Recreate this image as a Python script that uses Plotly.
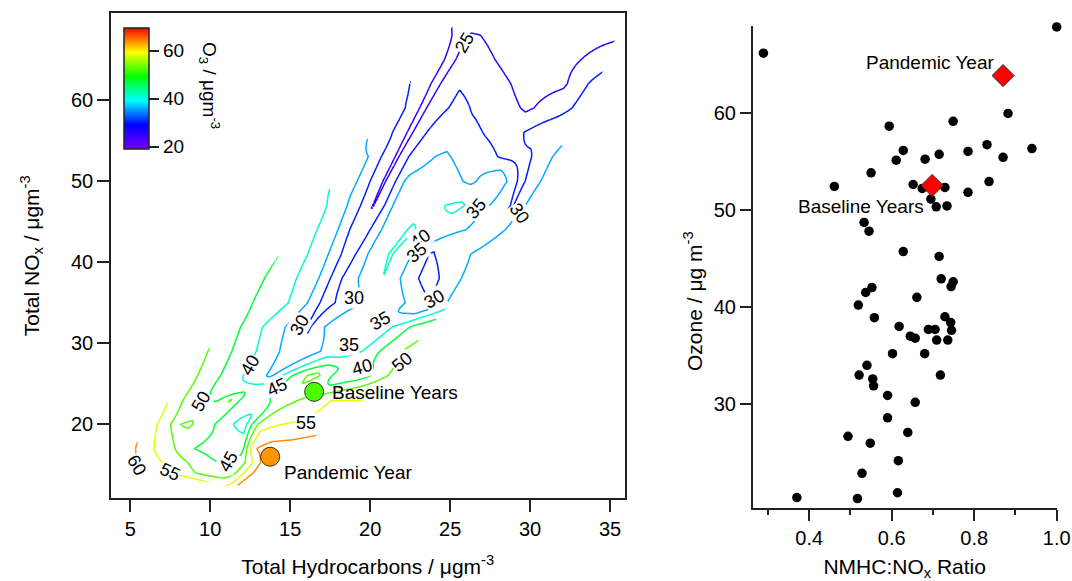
import numpy as np
import plotly.graph_objects as go

FONT = "Liberation Sans, Arial, sans-serif"
INK = "#222222"
W_PX = 1072.0
H_PX = 581.0

# ---------------- Left panel: O3 field over Total Hydrocarbons (x) / Total NOx (y) ----------------
# Each row: a NOx level, 12 THC positions across the data band (left edge -> right edge)
# and the O3 value read at each of them.
row_nox = [12.4, 14, 15.3, 17, 20, 23, 26, 29, 32, 35, 38, 41, 44, 47, 50, 53, 56, 59, 62, 65, 68, 69]
row_thc = [
    [10.9, 11.0, 11.1, 11.2, 11.3, 11.4, 11.5, 11.6, 11.7, 11.75, 11.8, 11.9],
    [6.5, 7.5, 8.5, 9.5, 10.5, 11.1, 11.6, 12.0, 12.4, 12.7, 13.0, 13.3],
    [4.5, 5.4, 7.0, 8.6, 10.0, 11.0, 11.8, 12.4, 12.9, 13.4, 13.85, 14.15],
    [5.1, 6.5, 7.8, 9.0, 10.5, 11.8, 12.1, 12.5, 12.9, 13.6, 14.5, 15.27],
    [6.25, 7.0, 7.7, 8.6, 9.8, 11.0, 12.1, 12.6, 13.2, 14.5, 16.2, 17.84],
    [7.4, 8.3, 9.3, 10.5, 11.3, 12.4, 13.3, 14.2, 15.2, 16.4, 17.6, 19.65],
    [8.55, 9.6, 10.8, 12.2, 13.8, 14.6, 15.4, 16.5, 17.4, 18.2, 19.6, 21.33],
    [9.71, 11.2, 12.6, 14.0, 15.7, 17.2, 17.9, 18.6, 19.5, 20.6, 21.6, 22.53],
    [10.86, 12.2, 13.4, 14.7, 16.2, 17.0, 17.9, 19.0, 20.4, 21.6, 22.7, 23.73],
    [12.02, 13.5, 14.9, 16.1, 17.1, 18.3, 19.6, 20.8, 22.2, 23.8, 24.5, 25.1],
    [13.17, 14.3, 15.4, 16.8, 17.8, 18.9, 19.8, 20.8, 22.1, 23.6, 24.9, 26.5],
    [14.32, 15.3, 16.1, 17.4, 18.6, 19.3, 20.0, 21.3, 22.6, 23.8, 25.3, 27.77],
    [15.48, 16.2, 16.8, 18.0, 19.3, 20.0, 20.7, 22.5, 24.2, 26.0, 27.6, 28.87],
    [16.63, 17.3, 18.0, 18.8, 20.2, 20.9, 21.4, 23.3, 25.6, 27.2, 28.9, 30.0],
    [17.78, 18.5, 19.2, 20.0, 20.9, 21.6, 22.2, 24.3, 26.4, 27.9, 29.4, 30.86],
    [18.94, 19.4, 19.9, 20.7, 21.7, 22.4, 23.2, 24.5, 26.4, 28.5, 29.7, 31.66],
    [20.09, 20.6, 21.4, 22.0, 22.5, 23.1, 24.3, 26.0, 27.3, 28.7, 30.7, 32.5],
    [21.25, 21.8, 22.2, 22.8, 23.3, 23.9, 25.5, 27.0, 28.4, 29.9, 31.6, 33.3],
    [22.4, 22.9, 23.3, 23.7, 24.1, 24.8, 25.6, 27.0, 28.0, 30.0, 32.2, 34.16],
    [23.55, 24.0, 24.4, 24.7, 25.0, 25.6, 26.3, 27.0, 27.8, 29.5, 32.0, 35.0],
    [24.7, 25.0, 25.2, 25.45, 25.7, 26.0, 26.4, 26.9, 27.6, 29.5, 32.5, 35.4],
    [25.1, 25.3, 25.45, 25.6, 25.75, 25.9, 26.05, 26.3, 26.6, 26.9, 27.2, 27.5],
]
row_o3 = [
    [54, 54.5, 55, 55.5, 56, 57, 58, 59, 60, 61, 62, 63],
    [59, 55, 52, 48.5, 46, 47, 50, 54, 57, 60, 62, 64],
    [64, 60, 55, 50, 46, 44, 46, 52, 58, 62, 64, 65],
    [61, 55, 50, 45, 42, 40, 45, 55, 60, 62, 62.5, 63.5],
    [58, 53, 49, 51, 47, 42, 37, 45, 53, 55, 55.5, 57],
    [55, 50, 46, 44.5, 50.5, 40, 44, 46, 49, 52.5, 55, 55],
    [52.5, 48.5, 44.5, 39.5, 34, 41, 47, 52, 47, 40, 43, 51],
    [50.5, 45.5, 41, 36, 31, 36, 38, 36, 40, 45, 49.5, 51],
    [48.5, 44, 39.5, 35, 29.5, 34, 40, 36, 35.5, 41, 46, 49],
    [46.5, 43, 40, 35, 28.5, 31, 35, 38, 35, 30, 33, 37],
    [45.5, 43, 40, 35, 28, 33, 38, 40, 34, 27.5, 32, 38],
    [45, 42.5, 40, 35, 27.5, 31, 36, 40.5, 35, 29.5, 33, 38],
    [44.5, 42, 39.5, 35, 26, 30, 35, 40.5, 38, 35, 31, 37],
    [41.5, 40, 37.5, 34, 24.7, 30, 35, 38.5, 41, 36, 29.5, 37],
    [39.5, 37.5, 35, 30, 24.4, 30, 35.5, 37.5, 34, 40, 28.5, 36],
    [37, 36, 35, 30, 24.2, 30, 33.5, 35.8, 33, 29, 28.5, 36],
    [34.5, 32.5, 30, 27, 23.8, 28, 33.5, 32, 29.5, 27.5, 33, 34],
    [32.3, 31, 30, 27, 23.5, 27.5, 31.5, 28.5, 26, 24.5, 27, 32],
    [30.2, 29, 27.5, 25.5, 23.5, 27, 29.5, 28, 26, 23.5, 24.5, 32],
    [28, 27, 26, 24.8, 23.5, 26, 27.5, 26.5, 25, 23, 23, 28],
    [26, 25.3, 24.8, 24.2, 23.5, 24.8, 25.5, 25, 24, 22.5, 22.5, 24],
    [25, 24.5, 24, 23.5, 23.5, 23.5, 23.5, 23.5, 23.5, 23.5, 23.5, 23.5],
]

o3_min, o3_max = 19.2, 69.7           # colour bar limits
contour_start, contour_end, contour_step = 20, 70, 5
cbar_ticks = [20, 40, 60]

# contour level labels as printed on the figure: THC, NOx, text, angle
label_thc = [25.9, 26.6, 29.3, 23.1, 22.9, 19.0, 24.0, 15.6, 20.6, 18.65, 12.5, 22.0, 19.5, 14.2, 9.4, 16.0, 11.1, 7.5, 5.41]
label_nox = [67.0, 46.6, 46.0, 42.9, 41.1, 35.6, 35.5, 32.2, 32.8, 29.75, 27.3, 27.7, 27.1, 24.6, 22.8, 20.1, 15.4, 14.1, 15.0]
label_txt = ["25", "35", "30", "40", "35", "30", "30", "30", "35", "35", "40", "50", "40", "45", "50", "55", "45", "55", "60"]
label_ang = [-60, -50, 55, -35, -40, 0, -30, -60, -30, 0, -60, -40, -15, -25, -60, 0, -60, 25, 60]

marker_names = ["Baseline Years", "Pandemic Year"]
marker_thc = [16.5, 13.75]
marker_nox = [24.0, 16.0]
marker_o3 = [52.5, 63.8]

# ---------------- Right panel: ozone vs NMHC:NOx ratio ----------------
ratio = [0.289, 1.0, 0.882, 0.594, 0.749, 0.628, 0.611, 0.681, 0.715, 0.785, 0.831, 0.870,
         0.940, 0.550, 0.461, 0.652, 0.674, 0.729, 0.785, 0.836, 0.695, 0.708, 0.734, 0.533,
         0.545, 0.628, 0.715, 0.720, 0.749, 0.744, 0.552, 0.537, 0.519, 0.661, 0.558, 0.618,
         0.729, 0.743, 0.745, 0.689, 0.705, 0.645, 0.657, 0.709, 0.736, 0.602, 0.680, 0.540,
         0.521, 0.554, 0.556, 0.718, 0.590, 0.657, 0.590, 0.494, 0.639, 0.548, 0.616, 0.528,
         0.614, 0.370, 0.517]
ozone = [66.1, 68.8, 59.9, 58.6, 59.1, 56.1, 55.1, 55.2, 55.7, 56.0, 56.7, 55.4,
         56.3, 53.8, 52.4, 52.6, 52.2, 52.3, 51.8, 52.9, 51.1, 50.3, 50.4, 48.7,
         47.8, 45.7, 45.2, 42.9, 42.6, 42.1, 42.0, 41.5, 40.2, 41.0, 38.9, 38.0,
         39.0, 38.4, 37.6, 37.7, 37.7, 37.0, 36.8, 36.6, 36.6, 35.2, 35.2, 34.0,
         33.0, 32.6, 31.9, 33.0, 30.9, 30.2, 28.6, 26.7, 27.1, 26.0, 24.2, 22.9,
         20.9, 20.4, 20.3]
highlight_names = ["Baseline Years", "Pandemic Year"]
highlight_ratio = [0.698, 0.870]
highlight_ozone = [52.5, 63.8]

# ---------------- Build the contour surface between the read rows ----------------
RY = np.array(row_nox, float)
RX = np.array(row_thc, float)
RZ = np.array(row_o3, float)
gx = np.round(np.arange(3.8, 35.95, 0.1), 3)
gy = np.round(np.arange(10.9, 70.7, 0.12), 3)
Z = np.full((gy.size, gx.size), np.nan)
for j, yv in enumerate(gy):
    if yv < RY[0] or yv > RY[-1]:
        continue
    k = min(int(np.searchsorted(RY, yv, side="right")) - 1, RY.size - 2)
    t = (yv - RY[k]) / (RY[k + 1] - RY[k])
    xs = (1 - t) * RX[k] + t * RX[k + 1]
    zs = (1 - t) * RZ[k] + t * RZ[k + 1]
    inside = (gx >= xs[0]) & (gx <= xs[-1])
    Z[j, inside] = np.interp(gx[inside], xs, zs)
Z = np.round(Z, 2)

rainbow = [[0.0, "rgb(118,0,255)"], [0.2, "rgb(0,0,255)"], [0.4, "rgb(0,255,255)"],
           [0.6, "rgb(0,255,0)"], [0.8, "rgb(255,255,0)"], [1.0, "rgb(255,0,0)"]]


def px_x(p):
    return p / W_PX


def px_y(p):
    return 1 - p / H_PX


fig = go.Figure()
fig.add_trace(go.Contour(
    x=gx, y=gy, z=Z, zmin=o3_min, zmax=o3_max, colorscale=rainbow, showscale=False,
    autocontour=False, connectgaps=False,
    contours=dict(start=contour_start, end=contour_end, size=contour_step, coloring="lines",
                  showlabels=False),
    line=dict(width=1.5), hoverinfo="skip", xaxis="x", yaxis="y"))

fig.add_trace(go.Scatter(
    x=marker_thc, y=marker_nox, mode="markers", xaxis="x", yaxis="y", cliponaxis=False,
    marker=dict(size=19, color=marker_o3, colorscale=rainbow, cmin=o3_min, cmax=o3_max,
                line=dict(color="#333333", width=1), showscale=True,
                colorbar=dict(x=px_x(124), xanchor="left", y=px_y(27.6), yanchor="top",
                              len=(149 - 27.6) / H_PX, lenmode="fraction", thickness=25,
                              thicknessmode="pixels", outlinewidth=1.5, outlinecolor=INK,
                              tickvals=cbar_ticks, ticks="outside", ticklen=10, tickwidth=1.5,
                              tickcolor=INK, tickfont=dict(family=FONT, size=19, color="black"),
                              xpad=0, ypad=0)),
    showlegend=False, hoverinfo="skip"))

fig.add_trace(go.Scatter(
    x=ratio, y=ozone, mode="markers", xaxis="x2", yaxis="y2", cliponaxis=False,
    marker=dict(size=9.5, color="black"), showlegend=False))
fig.add_trace(go.Scatter(
    x=highlight_ratio, y=highlight_ozone, mode="markers", xaxis="x2", yaxis="y2", cliponaxis=False,
    marker=dict(size=17, symbol="diamond", color="#ff0000", line=dict(color="#333333", width=1)),
    showlegend=False))

axis_common = dict(showgrid=False, zeroline=False, showline=True, linecolor=INK, linewidth=1.5,
                   ticks="outside", tickwidth=1.5, tickcolor=INK, automargin=False,
                   tickfont=dict(family=FONT, size=20, color="black"))

annotations = [
    dict(text="O<sub>3</sub> / μgm<sup>-3</sup>", xref="paper", yref="paper",
         x=px_x(210), y=px_y(85), xanchor="center", yanchor="middle", textangle=90,
         showarrow=False, font=dict(family=FONT, size=19, color="black")),
    dict(text=marker_names[0], x=17.5, y=23.9, xref="x", yref="y", xanchor="left",
         yanchor="middle", showarrow=False, font=dict(family=FONT, size=19, color="black")),
    dict(text=marker_names[1], x=14.5, y=14.1, xref="x", yref="y", xanchor="left",
         yanchor="middle", showarrow=False, font=dict(family=FONT, size=19, color="black")),
    dict(text=highlight_names[1], x=0.853, y=65.1, xref="x2", yref="y2", xanchor="right",
         yanchor="middle", showarrow=False, font=dict(family=FONT, size=19, color="black")),
    dict(text=highlight_names[0], x=0.682, y=50.3, xref="x2", yref="y2", xanchor="right",
         yanchor="middle", showarrow=False, font=dict(family=FONT, size=19, color="black")),
    dict(text="Ozone / μg m<sup>-3</sup>", xref="paper", yref="paper",
         x=px_x(693), y=px_y(301), xanchor="center", yanchor="middle", textangle=-90,
         showarrow=False, font=dict(family=FONT, size=21, color="black")),
]
for lx, ly, lt, la in zip(label_thc, label_nox, label_txt, label_ang):
    annotations.append(dict(text=lt, x=lx, y=ly, xref="x", yref="y", textangle=la,
                            xanchor="center", yanchor="middle", showarrow=False,
                            bgcolor="white", borderpad=0,
                            font=dict(family=FONT, size=18, color="black")))

fig.update_layout(
    width=1072, height=581, autosize=False, margin=dict(l=0, r=0, t=0, b=0, pad=0, autoexpand=False),
    paper_bgcolor="white", plot_bgcolor="white",
    font=dict(family=FONT, color="black"),
    xaxis=dict(domain=[px_x(111), px_x(624.5)], range=[3.8, 35.9], anchor="y",
               tickvals=[5, 10, 15, 20, 25, 30, 35], ticklen=12, mirror=True,
               title=dict(text="Total Hydrocarbons / μgm<sup>-3</sup>", standoff=20,
                          font=dict(family=FONT, size=21)), **axis_common),
    yaxis=dict(domain=[px_y(498.3), px_y(13.3)], range=[10.87, 70.69], anchor="x",
               tickvals=[20, 30, 40, 50, 60], ticklen=12, mirror=True,
               title=dict(text="Total NO<sub>x</sub> / μgm<sup>-3</sup>", standoff=26,
                          font=dict(family=FONT, size=21)), **axis_common),
    xaxis2=dict(domain=[px_x(752.7), px_x(1056.7)], range=[0.263, 1.0], anchor="y2",
                tickvals=[0.4, 0.6, 0.8, 1.0], ticktext=["0.4", "0.6", "0.8", "1.0"], ticklen=11,
                minor=dict(tickvals=[0.3, 0.5, 0.7, 0.9], ticklen=5, tickwidth=1.5,
                           tickcolor=INK, ticks="outside"),
                title=dict(text="NMHC:NO<sub>x</sub> Ratio", standoff=14,
                           font=dict(family=FONT, size=21)), **axis_common),
    yaxis2=dict(domain=[px_y(508.3), px_y(26)], range=[19.3, 68.9], anchor="x2",
                tickvals=[30, 40, 50, 60], ticklen=11, **axis_common),
    annotations=annotations,
)

fig.write_html("out.html", config={"responsive": False})
